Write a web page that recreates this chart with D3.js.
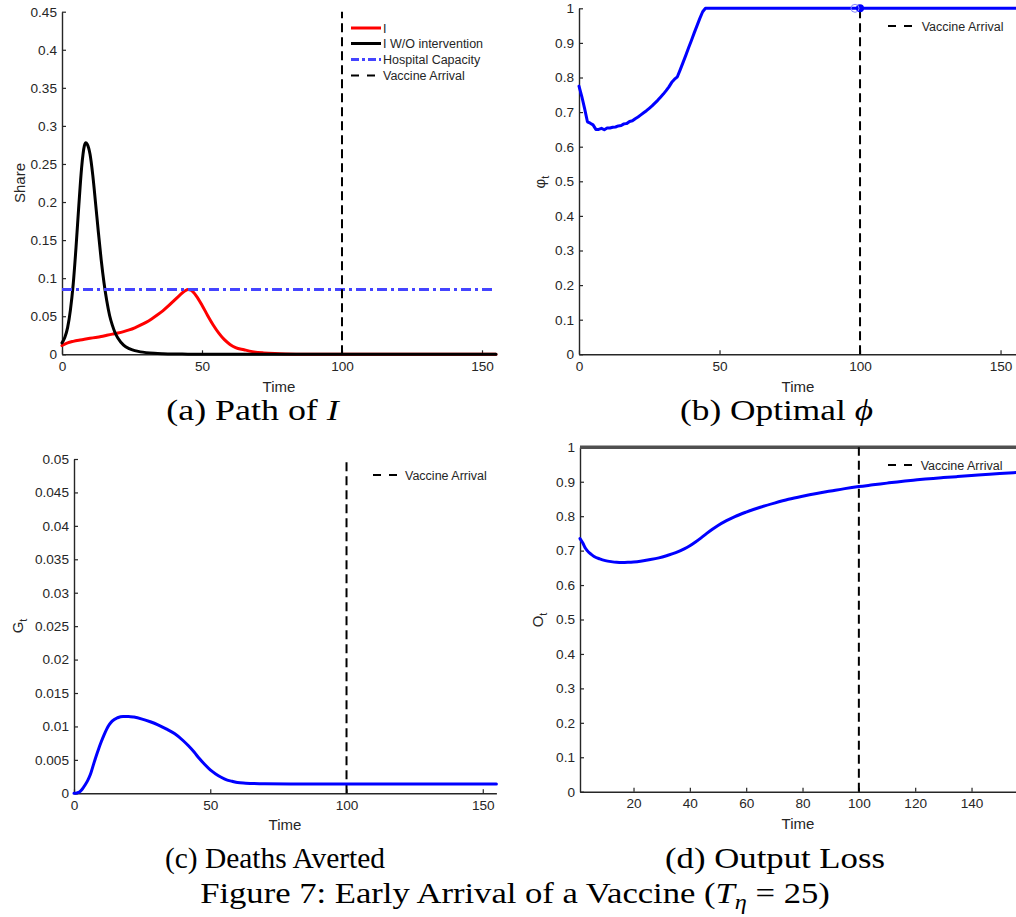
<!DOCTYPE html>
<html><head><meta charset="utf-8">
<script src="https://cdn.jsdelivr.net/npm/d3@7"></script>
<style>body{margin:0;background:#fff}svg{display:block}</style>
</head><body>
<svg id="c" width="1016" height="917"></svg>
<script>
// ---------------- DATA ----------------
// Panel (a): Path of I
const timeI = [0,2,4,6,8,10,12,14,16,18,20,22,24,26,28,30,32,34,36,38,40,42,44,45,46,48,50,52,54,56,58,60,62,65,68,72,76,80,90,100,120,155];
const shareI = [0.0115,0.015,0.017,0.0185,0.0197,0.021,0.0222,0.0235,0.025,0.0265,0.028,0.0298,0.032,0.0348,0.0382,0.042,0.0465,0.0515,0.057,0.0635,0.0705,0.0775,0.0835,0.085,0.0843,0.0765,0.0645,0.051,0.0385,0.0278,0.0192,0.013,0.0088,0.006,0.0035,0.0018,0.0009,0.0005,0.00015,0.00004,0,0];
const timeNoInt = [0,1,2,3,4,5,6,7,8,8.5,9,10,11,12,13,14,15,16,17,18,19,20,22,24,26,28,30,33,36,40,45,50,60,155];
const shareNoInt = [0.015,0.022,0.035,0.058,0.092,0.14,0.195,0.245,0.274,0.278,0.276,0.263,0.235,0.198,0.16,0.124,0.094,0.07,0.051,0.038,0.028,0.021,0.012,0.0075,0.0048,0.0032,0.0022,0.0013,0.0008,0.0004,0.0002,0.0001,0,0];
const hospitalCapacity = 0.085;
const vaccineArrival = 100;
const ticksA_x = [0,50,100,150];
const ticksA_y = [0,0.05,0.1,0.15,0.2,0.25,0.3,0.35,0.4,0.45];
const legendA = ["I","I W/O intervention","Hospital Capacity","Vaccine Arrival"];

// Panel (b): Optimal phi
const timePhi = [0,1,2,3,4,5,6,7,8,9,10,11,12,13,14,15,16,17,18,19,20,21,22,23,24,25,26,27,28,29,30,31,32,33,34,35,36,37,38,39,40,41,42,43,44,45,46,155.5];
const phiVals = [0.775,0.745,0.71,0.672,0.668,0.663,0.65,0.65,0.653,0.649,0.654,0.654,0.656,0.657,0.66,0.661,0.666,0.667,0.673,0.675,0.681,0.686,0.692,0.698,0.704,0.711,0.718,0.726,0.734,0.743,0.752,0.762,0.773,0.786,0.795,0.802,0.822,0.843,0.864,0.886,0.907,0.929,0.95,0.971,0.99,1,1,1];
const phiMarkerT = [100];
const phiMarkerV = [1];
const ticksB_x = [0,50,100,150];
const ticksB_y = [0,0.1,0.2,0.3,0.4,0.5,0.6,0.7,0.8,0.9,1];

// Panel (c): Deaths averted
const timeG = [0,1,2,3,4,5,6,7,8,9,10,11,12,13,14,16,18,20,22,25,28,31,34,37,40,42,44,46,48,50,52,54,56,58,60,63,66,70,80,100,155];
const gVals = [0,0.00005,0.0002,0.0006,0.0012,0.0019,0.0028,0.0041,0.0054,0.0066,0.0077,0.0087,0.0096,0.0103,0.0108,0.0113,0.0115,0.0115,0.0114,0.0111,0.0107,0.0102,0.0096,0.0089,0.0079,0.0071,0.0062,0.0052,0.0043,0.0035,0.0029,0.0024,0.0020,0.0018,0.0016,0.00152,0.00146,0.00142,0.0014,0.0014,0.0014];
const ticksC_x = [0,50,100,150];
const ticksC_y = [0,0.005,0.01,0.015,0.02,0.025,0.03,0.035,0.04,0.045,0.05];

// Panel (d): Output loss
const timeO = [1,2,3,4,5,6,8,10,12,14,16,18,20,23,26,29,32,35,38,40,42,44,46,48,50,53,56,60,65,70,75,80,85,90,95,100,105,110,115,120,125,130,135,140,145,150,156];
const oVals = [0.735,0.722,0.706,0.696,0.689,0.683,0.676,0.671,0.668,0.666,0.6655,0.666,0.667,0.67,0.674,0.679,0.686,0.694,0.705,0.714,0.725,0.737,0.75,0.762,0.773,0.787,0.799,0.812,0.826,0.838,0.849,0.858,0.866,0.873,0.88,0.886,0.891,0.896,0.901,0.905,0.909,0.912,0.915,0.918,0.921,0.924,0.927];
const potentialOutput = 1;
const ticksD_x = [20,40,60,80,100,120,140];
const ticksD_y = [0,0.1,0.2,0.3,0.4,0.5,0.6,0.7,0.8,0.9,1];

const captions = ["(a) Path of ", "(b) Optimal ", "(c) Deaths Averted", "(d) Output Loss"];

// ---------------- DRAW ----------------
const svg = d3.select("#c");
const AX = "#262626";
const SANS = "'Liberation Sans', Arial, Helvetica, sans-serif";
const SERIF = "'Liberation Serif', 'DejaVu Serif', serif";
const fmt = d => String(+d.toFixed(4));

function panel(cfg) {
  const x = d3.scaleLinear().domain(cfg.xd).range([cfg.x0, cfg.x1]);
  const y = d3.scaleLinear().domain(cfg.yd).range([cfg.y0, cfg.y1]);
  const g = svg.append("g");
  const xa = g.append("g").attr("transform", `translate(0,${cfg.y0})`)
    .call(d3.axisBottom(x).tickValues(cfg.xt).tickFormat(fmt).tickSizeInner(-4).tickSizeOuter(0).tickPadding(7));
  const ya = g.append("g").attr("transform", `translate(${cfg.x0},0)`)
    .call(d3.axisLeft(y).tickValues(cfg.yt).tickFormat(fmt).tickSizeInner(-4).tickSizeOuter(0).tickPadding(5));
  [xa, ya].forEach(a => {
    a.select(".domain").attr("stroke", AX).attr("stroke-width", 1.4);
    a.selectAll(".tick line").attr("stroke", AX).attr("stroke-width", 1.2);
    a.selectAll(".tick text").attr("fill", AX).attr("font-family", SANS).attr("font-size", 13.6);
  });
  return {g, x, y};
}

function xlabel(cx, by) {
  svg.append("text").attr("x", cx).attr("y", by).attr("text-anchor", "middle")
    .attr("font-family", SANS).attr("font-size", 15).attr("fill", AX).text("Time");
}
function ylabel(bx, cy, main, sub) {
  const t = svg.append("text").attr("transform", `translate(${bx},${cy}) rotate(-90)`)
    .attr("text-anchor", "middle").attr("font-family", SANS).attr("font-size", 15).attr("fill", AX);
  t.append("tspan").text(main);
  if (sub) t.append("tspan").attr("font-size", 11).attr("dy", 4).text(sub);
}
function legendRow(x0, x1, tx, cy, color, dash, width, label) {
  svg.append("line").attr("x1", x0).attr("x2", x1).attr("y1", cy).attr("y2", cy)
    .attr("stroke", color).attr("stroke-width", width).attr("stroke-dasharray", dash);
  svg.append("text").attr("x", tx).attr("y", cy + 4.5).attr("font-family", SANS)
    .attr("font-size", 12.5).attr("fill", AX).text(label);
}
function vline(p, t, v0, v1) {
  p.g.append("line").attr("x1", p.x(t)).attr("x2", p.x(t)).attr("y1", p.y(v0)).attr("y2", p.y(v1))
    .attr("stroke", "#000").attr("stroke-width", 2).attr("stroke-dasharray", "9,5");
}
function curve(p, ts, vs, color, w, c) {
  const line = d3.line().x(d => p.x(d[0])).y(d => p.y(d[1])).curve(c || d3.curveMonotoneX);
  p.g.append("path").datum(ts.map((t, i) => [t, vs[i]])).attr("d", line)
    .attr("fill", "none").attr("stroke", color).attr("stroke-width", w)
    .attr("stroke-linejoin", "round").attr("stroke-linecap", "round");
}

// (a)
const pA = panel({x0:62, x1:496, y0:354.3, y1:11.7, xd:[0,155], yd:[0,0.45], xt:ticksA_x, yt:ticksA_y});
curve(pA, timeI, shareI, "#ff0000", 3);
curve(pA, timeNoInt, shareNoInt, "#000000", 3);
pA.g.append("line").attr("x1", pA.x(0)).attr("x2", pA.x(155)).attr("y1", pA.y(hospitalCapacity)).attr("y2", pA.y(hospitalCapacity))
  .attr("stroke", "#4444ff").attr("stroke-width", 3).attr("stroke-dasharray", "10,4,3,4");
vline(pA, vaccineArrival, 0, 0.45);
xlabel(279, 392); ylabel(25, 183, "Share");
legendRow(351, 381, 383, 28, "#ff0000", null, 3, legendA[0]);
legendRow(351, 381, 383, 43.5, "#000000", null, 3, legendA[1]);
legendRow(351, 381, 383, 59.5, "#4444ff", "8,3,3,3", 3, legendA[2]);
legendRow(351, 376, 383, 75.5, "#000000", "8,8", 2, legendA[3]);

// (b)
const pB = panel({x0:579, x1:1016, y0:354.3, y1:8.3, xd:[0,155.5], yd:[0,1], xt:ticksB_x, yt:ticksB_y});
vline(pB, vaccineArrival, 0, 1);
curve(pB, timePhi, phiVals, "#0000ff", 3, d3.curveLinear);
pB.g.selectAll("circle.m").data(phiMarkerT).enter().append("circle")
  .attr("cx", (d) => pB.x(d)).attr("cy", (d, i) => pB.y(phiMarkerV[i])).attr("r", 4).attr("fill", "#0000ff");
pB.g.append("circle").attr("cx", pB.x(phiMarkerT[0]) - 5).attr("cy", pB.y(phiMarkerV[0])).attr("r", 4)
  .attr("fill", "none").attr("stroke", "#8888ff").attr("stroke-width", 1);
xlabel(798, 392); ylabel(545, 182, "φ", "t");
legendRow(888, 912, 921.7, 26, "#000000", "8,8", 2, "Vaccine Arrival");

// (c)
const pC = panel({x0:74, x1:496.4, y0:793.3, y1:459, xd:[0,155], yd:[0,0.05], xt:ticksC_x, yt:ticksC_y});
vline(pC, vaccineArrival, 0, 0.05);
curve(pC, timeG, gVals, "#0000ff", 3);
xlabel(285, 830); ylabel(23, 626, "G", "t");
legendRow(373, 397, 405, 475, "#000000", "8,8", 2, "Vaccine Arrival");

// (d)
const pD = panel({x0:580, x1:1016.6, y0:791.7, y1:447.3, xd:[1,156], yd:[0,1], xt:ticksD_x, yt:ticksD_y});
pD.g.append("line").attr("x1", pD.x(1)).attr("x2", pD.x(156)).attr("y1", pD.y(potentialOutput)).attr("y2", pD.y(potentialOutput))
  .attr("stroke", "#505050").attr("stroke-width", 3.5);
vline(pD, vaccineArrival, 0, 1);
curve(pD, timeO, oVals, "#0000ff", 3);
xlabel(798, 829); ylabel(543, 620, "O", "t");
legendRow(888, 912, 920.7, 465, "#000000", "8,8", 2, "Vaccine Arrival");

// captions
function caption(parts, cx, by, width, size) {
  const t = svg.append("text").attr("x", cx).attr("y", by).attr("text-anchor", "middle")
    .attr("font-family", SERIF).attr("font-size", size).attr("fill", "#000");
  parts.forEach(p => {
    const s = t.append("tspan").text(p.s);
    if (p.i) s.attr("font-style", "italic");
    if (p.dy) s.attr("dy", p.dy);
    if (p.fs) s.attr("font-size", p.fs);
  });
  const w = t.node().getBBox().width;
  const k = width / w;
  t.attr("transform", `translate(${cx},0) scale(${k},1) translate(${-cx},0)`);
}
caption([{s: captions[0]}, {s: "I", i: true}], 252.5, 420, 175, 30);
caption([{s: captions[1]}, {s: "ϕ", i: true}], 776.5, 420, 193, 30);
caption([{s: captions[2]}], 275, 868, 220, 30);
caption([{s: captions[3]}], 775, 868, 220, 30);
caption([{s: "Figure 7: Early Arrival of a Vaccine ("}, {s: "T", i: true}, {s: "η", i: true, dy: 6, fs: 21}, {s: " = 25)", dy: -6}], 515, 903, 630, 30);
</script>
</body></html>
